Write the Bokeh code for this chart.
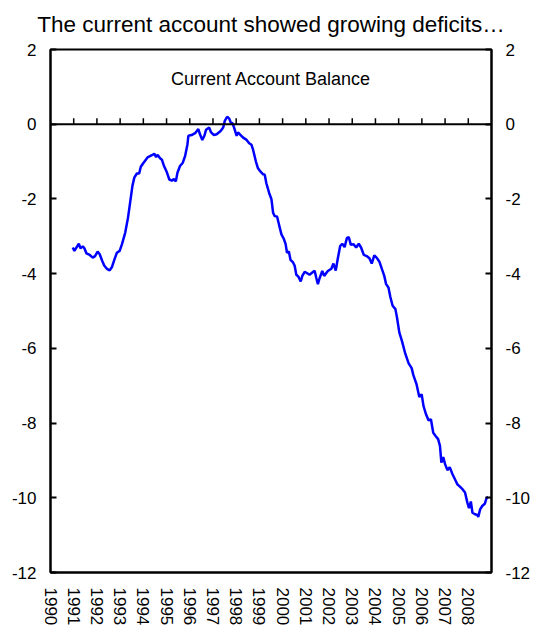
from bokeh.plotting import figure
from bokeh.models import LinearAxis, FixedTicker, Range1d, Span, Label
from bokeh.embed import file_html
from bokeh.resources import INLINE

title_text = "The current account showed growing deficits\u2026"
series_name = "Current Account Balance"

year_labels = list(range(1990, 2009))
zero_line_ticks = list(range(1991, 2009))
y_ticks = [-12, -10, -8, -6, -4, -2, 0, 2]

# Current account balance (% ); decimal years
dates = [
    1990.96, 1991.03, 1991.22, 1991.29, 1991.39, 1991.46, 1991.55, 1991.69, 1991.82, 1991.92,
    1992.03, 1992.12, 1992.23, 1992.32, 1992.43, 1992.55, 1992.65, 1992.76, 1992.86, 1992.98,
    1993.08, 1993.22, 1993.34, 1993.43, 1993.53, 1993.61, 1993.72, 1993.82, 1993.89, 1994.01,
    1994.18, 1994.37, 1994.47, 1994.55, 1994.62, 1994.72, 1994.80, 1994.89, 1995.01, 1995.12,
    1995.23, 1995.32, 1995.40, 1995.47, 1995.58, 1995.70, 1995.80, 1995.90, 1995.94, 1996.08,
    1996.23, 1996.37, 1996.44, 1996.54, 1996.63, 1996.70, 1996.84, 1996.91, 1997.04, 1997.16,
    1997.33, 1997.44, 1997.51, 1997.61, 1997.70, 1997.77, 1997.84, 1997.91, 1998.02, 1998.08,
    1998.19, 1998.30, 1998.45, 1998.56, 1998.66, 1998.73, 1998.85, 1998.94, 1999.05, 1999.16,
    1999.23, 1999.30, 1999.42, 1999.52, 1999.59, 1999.66, 1999.76, 1999.85, 1999.95, 2000.06,
    2000.13, 2000.19, 2000.27, 2000.34, 2000.45, 2000.52, 2000.59, 2000.68, 2000.78, 2000.85,
    2000.95, 2001.06, 2001.16, 2001.28, 2001.38, 2001.45, 2001.52, 2001.59, 2001.71, 2001.79,
    2001.95, 2002.10, 2002.19, 2002.29, 2002.38, 2002.48, 2002.57, 2002.67, 2002.77, 2002.85,
    2002.94, 2003.05, 2003.17, 2003.28, 2003.38, 2003.50, 2003.62, 2003.74, 2003.84, 2003.95,
    2004.05, 2004.17, 2004.28, 2004.38, 2004.46, 2004.56, 2004.64, 2004.74, 2004.86, 2004.93,
    2005.03, 2005.14, 2005.29, 2005.43, 2005.56, 2005.63, 2005.77, 2005.89, 2005.99, 2006.07,
    2006.17, 2006.29, 2006.39, 2006.49, 2006.60, 2006.70, 2006.78, 2006.84, 2006.92, 2007.00,
    2007.10, 2007.20, 2007.32, 2007.43, 2007.53, 2007.65, 2007.75, 2007.86, 2007.96, 2008.03,
    2008.11, 2008.18, 2008.29, 2008.39, 2008.43, 2008.51, 2008.60, 2008.71, 2008.79, 2008.86,
]
balance = [
    -3.30, -3.39, -3.20, -3.32, -3.27, -3.32, -3.46, -3.50, -3.57, -3.53,
    -3.41, -3.48, -3.66, -3.79, -3.87, -3.91, -3.82, -3.61, -3.44, -3.39,
    -3.21, -2.90, -2.50, -2.10, -1.65, -1.43, -1.32, -1.32, -1.14, -1.03,
    -0.89, -0.83, -0.79, -0.88, -0.82, -0.91, -0.95, -1.12, -1.28, -1.48,
    -1.51, -1.47, -1.53, -1.30, -1.12, -1.03, -0.85, -0.54, -0.31, -0.29,
    -0.24, -0.13, -0.27, -0.42, -0.31, -0.15, -0.09, -0.21, -0.29, -0.27,
    -0.18, -0.09, 0.09, 0.20, 0.15, 0.04, 0.03, -0.09, -0.31, -0.22,
    -0.29, -0.36, -0.42, -0.51, -0.55, -0.69, -1.00, -1.18, -1.27, -1.34,
    -1.35, -1.58, -1.84, -2.01, -2.37, -2.46, -2.47, -2.70, -2.95, -3.08,
    -3.21, -3.44, -3.41, -3.63, -3.70, -3.79, -4.03, -4.08, -4.21, -4.06,
    -3.95, -3.99, -4.03, -3.97, -3.92, -4.11, -4.28, -4.13, -3.93, -4.06,
    -3.93, -3.87, -3.73, -3.92, -3.59, -3.26, -3.20, -3.29, -3.05, -3.02,
    -3.23, -3.21, -3.30, -3.20, -3.30, -3.50, -3.53, -3.59, -3.73, -3.51,
    -3.57, -3.68, -3.88, -4.06, -4.28, -4.37, -4.62, -4.86, -4.95, -5.18,
    -5.58, -5.80, -6.15, -6.40, -6.53, -6.71, -6.96, -7.30, -7.23, -7.54,
    -7.75, -7.93, -7.90, -8.26, -8.35, -8.43, -8.61, -9.06, -8.91, -9.10,
    -9.26, -9.18, -9.37, -9.51, -9.64, -9.71, -9.77, -9.86, -10.13, -10.28,
    -10.10, -10.40, -10.44, -10.46, -10.51, -10.31, -10.22, -10.16, -10.00, -9.98,
]

FONT = "Liberation Sans"

p = figure(
    frame_width=441, frame_height=523,
    x_range=Range1d(1990, 2009), y_range=Range1d(-12, 2),
    output_backend="svg", toolbar_location=None,
    min_border_left=50, min_border_right=44, min_border_top=49, min_border_bottom=50,
    background_fill_color="white", border_fill_color="white",
)

p.title.text = title_text
p.title.text_font = FONT
p.title.text_font_size = "22.5px"
p.title.text_font_style = "normal"
p.title.align = "center"
p.title.vertical_align = "top"
p.title.text_color = "black"
p.title.standoff = 21

p.outline_line_color = "black"
p.outline_line_width = 2
p.outline_line_alpha = 1
p.xgrid.visible = False
p.ygrid.visible = False

# x axis (labels only at bottom)
xa = p.xaxis[0]
xa.ticker = FixedTicker(ticks=year_labels)
xa.major_label_overrides = {y: str(y) for y in year_labels}
xa.major_tick_in = 0
xa.major_tick_out = 0
xa.minor_tick_line_color = None
xa.axis_line_width = 2
xa.axis_line_color = "black"
xa.major_label_orientation = "vertical"
xa.major_label_standoff = 15
xa.major_label_text_font = FONT
xa.major_label_text_font_size = "17px"
xa.major_label_text_color = "black"

def style_y(ax):
    ax.ticker = FixedTicker(ticks=y_ticks)
    ax.major_label_overrides = {t: str(t) for t in y_ticks}
    ax.major_tick_in = 6
    ax.major_tick_out = 0
    ax.major_tick_line_width = 2
    ax.major_tick_line_color = "black"
    ax.minor_tick_line_color = None
    ax.axis_line_width = 2
    ax.axis_line_color = "black"
    ax.major_label_standoff = 14
    ax.major_label_text_font = FONT
    ax.major_label_text_font_size = "17px"
    ax.major_label_text_color = "black"

style_y(p.yaxis[0])
ry = LinearAxis()
style_y(ry)
p.add_layout(ry, "right")

# zero line with year ticks
p.add_layout(Span(location=0, dimension="width", line_color="black", line_width=2))
p.segment(x0=zero_line_ticks, y0=[0] * len(zero_line_ticks),
          x1=zero_line_ticks, y1=[0.16] * len(zero_line_ticks),
          line_color="black", line_width=1.5)

p.line(dates, balance, line_color="#0000FF", line_width=2.5)

p.add_layout(Label(x=(1990 + 2009) / 2, y=1.22, text=series_name,
                   text_align="center", text_baseline="middle",
                   text_font=FONT, text_font_size="18px", text_color="black"))

open("out.html", "w").write(file_html(p, INLINE))
